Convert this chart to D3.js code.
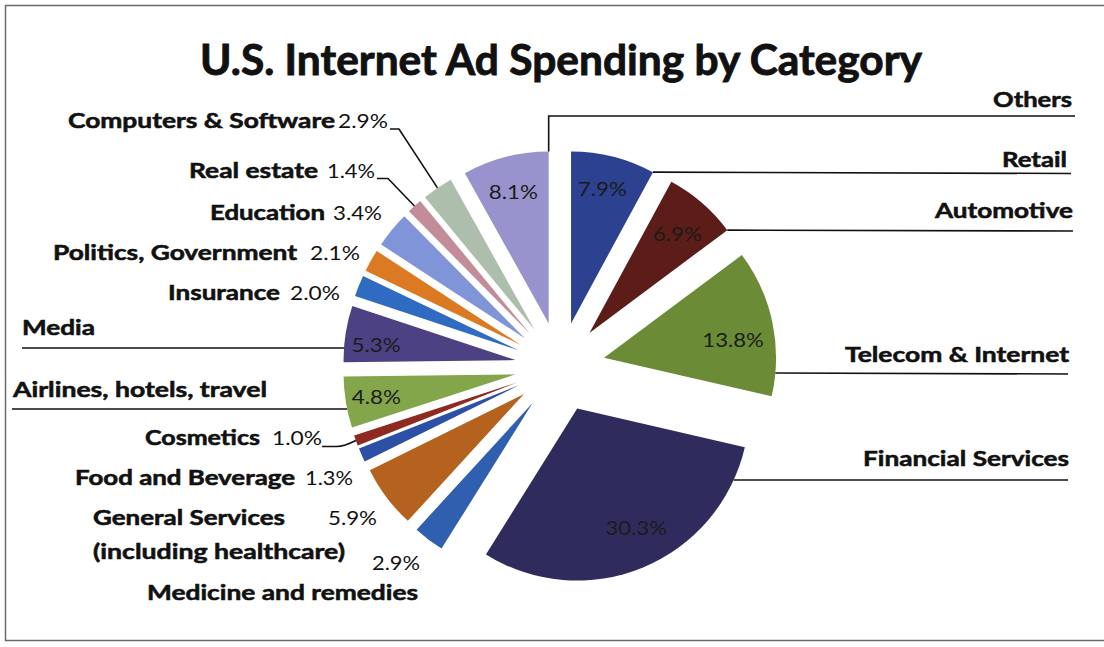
<!DOCTYPE html>
<html>
<head>
<meta charset="utf-8">
<script src="https://cdn.jsdelivr.net/npm/d3@7/dist/d3.min.js"></script>
<style>
  html, body { margin: 0; padding: 0; background: #ffffff; }
  svg { display: block; }
  text { font-family: "Lato", "Open Sans", sans-serif; fill: #111; }
  text.bold { font-weight: 700; stroke: #111; stroke-width: 0.55px; }
</style>
</head>
<body>
<svg id="chart" width="1104" height="647"></svg>
<script>
// Share of U.S. internet ad spending, clockwise from 12 o'clock
const categories = [
  "Retail", "Automotive", "Telecom & Internet", "Financial Services",
  "Medicine and remedies", "General Services (including healthcare)",
  "Food and Beverage", "Cosmetics", "Airlines, hotels, travel", "Media",
  "Insurance", "Politics, Government", "Education", "Real estate",
  "Computers & Software", "Others"
];
const shares = [7.9, 6.9, 13.8, 30.3, 2.9, 5.9, 1.3, 1.0, 4.8, 5.3, 2.0, 2.1, 3.4, 1.4, 2.9, 8.1];
const sliceColors = [
  "#2c4190", "#5c1d18", "#6b8b36", "#2f2c5d",
  "#2f5fae", "#b5621f", "#2d4fa5", "#8e2a20", "#84a64a", "#4b4183",
  "#2f6bc0", "#db7a23", "#7f95d8", "#c28d99", "#adbfac", "#9893cc"
];
// Slices whose percentage is printed inside the wedge
const insideLabelled = ["Retail", "Automotive", "Telecom & Internet", "Financial Services",
  "Airlines, hotels, travel", "Media", "Others"];

const W = 1104, H = 647;
const cx = 560, cy = 367, R = 172, explode = 45;

const svg = d3.select("#chart");
const color = d3.scaleOrdinal(categories, sliceColors);
const fmt = v => d3.format(".1f")(v) + "%";

// frame
svg.append("rect")
  .attr("x", 5.5).attr("y", 5.5).attr("width", W + 10).attr("height", 635)
  .attr("fill", "none").attr("stroke", "#6a6a6a").attr("stroke-width", 1.5);

// title
svg.append("text")
  .attr("class", "bold")
  .attr("x", 200).attr("y", 75)
  .attr("textLength", 722).attr("lengthAdjust", "spacingAndGlyphs")
  .style("font-size", "42px").style("stroke-width", "0.9px")
  .text("U.S. Internet Ad Spending by Category");

const data = categories.map((c, i) => ({ category: c, share: shares[i] }));
const arcs = d3.pie().value(d => d.share).sort(null)(data);
const arcGen = d3.arc().innerRadius(0).outerRadius(R);

// unit vector for an angle measured clockwise from 12 o'clock
const dir = a => [Math.sin(a), -Math.cos(a)];
arcs.forEach(a => {
  a.mid = (a.startAngle + a.endAngle) / 2;
  const [ux, uy] = dir(a.mid);
  a.apex = [cx + explode * ux, cy + explode * uy];
});
const byName = Object.fromEntries(arcs.map(a => [a.data.category, a]));

// point on the outer rim of a slice at angle t
const rim = (a, t) => { const [ux, uy] = dir(t); return [a.apex[0] + R * ux, a.apex[1] + R * uy]; };
// point on the outer rim of a slice at a given height
const rimAtY = (a, y) => {
  const c = Math.max(-1, Math.min(1, (a.apex[1] - y) / R));
  const base = Math.acos(c);
  const cands = [base, 2 * Math.PI - base];
  const t = cands.find(v => v >= a.startAngle - 1e-6 && v <= a.endAngle + 1e-6) ?? cands[0];
  return rim(a, t);
};

const g = svg.append("g");
g.selectAll("path.slice")
  .data(arcs)
  .join("path")
  .attr("class", "slice")
  .attr("transform", d => `translate(${d.apex[0]},${d.apex[1]})`)
  .attr("d", arcGen)
  .attr("fill", d => color(d.data.category));

// percentages inside the larger wedges, with small hand nudges
const insideNudge = {
  "Retail": [-2, -2], "Automotive": [-1, 4], "Telecom & Internet": [-4, 10],
  "Financial Services": [7, -6], "Media": [-5, 6], "Airlines, hotels, travel": [-5, 1], "Others": [-1, 0]
};
g.selectAll("text.inside")
  .data(arcs.filter(a => insideLabelled.includes(a.data.category)))
  .join("text")
  .attr("class", "inside")
  .attr("x", d => d.apex[0] + 136 * dir(d.mid)[0] + insideNudge[d.data.category][0])
  .attr("y", d => d.apex[1] + 136 * dir(d.mid)[1] + insideNudge[d.data.category][1])
  .attr("dy", "0.36em")
  .attr("text-anchor", "middle")
  .attr("textLength", d => 12.3 * fmt(d.data.share).length)
  .attr("lengthAdjust", "spacingAndGlyphs")
  .style("font-size", "19px")
  .style("fill", "#1b1b1b")
  .text(d => fmt(d.data.share));

// leader lines
const line = d3.line();
const leaders = [];
const others = byName["Others"];
const oTop = rim(others, others.endAngle);
leaders.push([oTop, [oTop[0], 116], [1075, 116]]);
const retail = byName["Retail"];
leaders.push([rim(retail, retail.endAngle), [1071, 173.5]]);
const auto = byName["Automotive"];
leaders.push([rim(auto, auto.endAngle), [1073, 231]]);
leaders.push([rimAtY(byName["Telecom & Internet"], 373), [1068, 374]]);
leaders.push([rimAtY(byName["Financial Services"], 480), [1068, 480]]);
leaders.push([[22, 348], rimAtY(byName["Media"], 348)]);
leaders.push([[12, 409], rimAtY(byName["Airlines, hotels, travel"], 409)]);
const comp = byName["Computers & Software"];
leaders.push([[390, 129], [399, 129], rim(comp, comp.mid)]);
const real = byName["Real estate"];
leaders.push([[377, 178.5], [388, 178.5], rim(real, real.mid)]);

svg.append("g").selectAll("path")
  .data(leaders)
  .join("path")
  .attr("d", d => line(d))
  .attr("fill", "none").attr("stroke", "#111").attr("stroke-width", 1.6);

// small curved leader for Cosmetics
const cos = byName["Cosmetics"];
const cosEnd = rim(cos, cos.mid);
svg.append("path")
  .attr("d", `M322,446.5 L337,446.5 Q344,446.5 ${cosEnd[0]},${cosEnd[1]}`)
  .attr("fill", "none").attr("stroke", "#111").attr("stroke-width", 1.6);

// category names (bold) and outside percentages (regular)
const nameLayout = [
  { name: "Others", x: 1072, y: 107, w: 79, anchor: "end" },
  { name: "Retail", x: 1067, y: 167, w: 65, anchor: "end" },
  { name: "Automotive", x: 1073, y: 218, w: 138, anchor: "end" },
  { name: "Telecom & Internet", x: 1069, y: 362, w: 224, anchor: "end" },
  { name: "Financial Services", x: 1069, y: 466, w: 206, anchor: "end" },
  { name: "Computers & Software", x: 335, y: 128, w: 267, anchor: "end", pct: [338, 128, 50] },
  { name: "Real estate", x: 318, y: 178, w: 129, anchor: "end", pct: [327, 178, 48] },
  { name: "Education", x: 325, y: 220, w: 115, anchor: "end", pct: [333, 220, 49] },
  { name: "Politics, Government", x: 297, y: 260, w: 244, anchor: "end", pct: [310, 260, 50] },
  { name: "Insurance", x: 280, y: 300, w: 112, anchor: "end", pct: [290, 300, 50] },
  { name: "Media", x: 22, y: 335, w: 73, anchor: "start" },
  { name: "Airlines, hotels, travel", x: 13, y: 397, w: 254, anchor: "start" },
  { name: "Cosmetics", x: 260, y: 445, w: 115, anchor: "end", pct: [272, 445, 50] },
  { name: "Food and Beverage", x: 295, y: 485, w: 220, anchor: "end", pct: [305, 485, 48] },
  { name: "General Services (including healthcare)", lines: ["General Services", "(including healthcare)"],
    x: 93, y: 525, w: [192, 252], anchor: "start", lineGap: 34, pct: [328, 525, 49] },
  { name: "Medicine and remedies", x: 147, y: 600, w: 271, anchor: "start", pct: [372, 570, 48] }
];

const labels = svg.append("g");
nameLayout.forEach(L => {
  const lines = L.lines || [L.name];
  const widths = Array.isArray(L.w) ? L.w : [L.w];
  lines.forEach((t, k) => {
    labels.append("text")
      .attr("class", "bold")
      .attr("x", L.x).attr("y", L.y + k * (L.lineGap || 0))
      .attr("text-anchor", L.anchor)
      .attr("textLength", widths[k]).attr("lengthAdjust", "spacingAndGlyphs")
      .style("font-size", "21px")
      .text(t);
  });
  if (L.pct) {
    labels.append("text")
      .attr("x", L.pct[0]).attr("y", L.pct[1])
      .attr("textLength", L.pct[2]).attr("lengthAdjust", "spacingAndGlyphs")
      .style("font-size", "19px")
      .text(fmt(byName[L.name].data.share));
  }
});
</script>
</body>
</html>
